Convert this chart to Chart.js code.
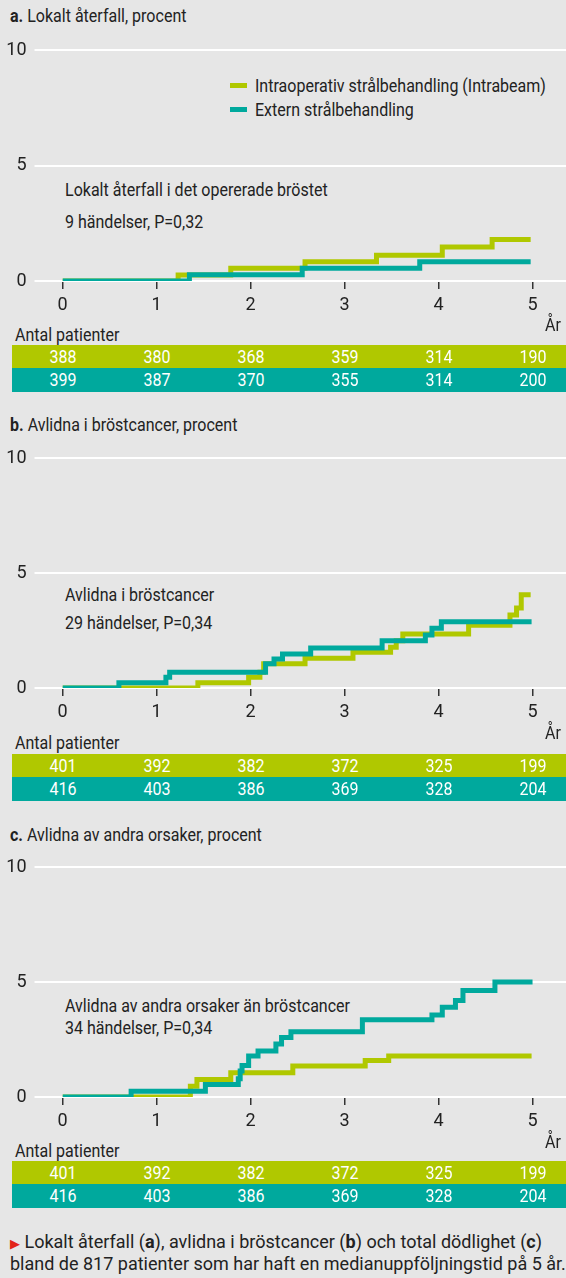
<!DOCTYPE html>
<html lang="sv">
<head>
<meta charset="utf-8">
<title>Intrabeam</title>
<script src="https://cdn.jsdelivr.net/npm/chart.js@4.4.1/dist/chart.umd.min.js"></script>
<style>
    body { margin: 0; background: #e6e6e6; }
    #page {
        position: relative; width: 566px; height: 1278px; overflow: hidden;
        background: #e6e6e6; color: #222;
        font-family: Roboto, "Noto Sans", sans-serif;
    }
    .txt {
        position: absolute; white-space: nowrap; line-height: 1; font-size: 18px;
        transform: translateY(-50%) scaleX(0.89); transform-origin: left center;
    }
    .title { left: 10px; }
    .note { left: 65px; }
    .swatch { position: absolute; left: 230px; width: 17px; height: 5px; }
    .row { position: absolute; left: 12px; width: 554px; }
    .cell {
        position: absolute; top: 50%; color: #fff; font-size: 18px; line-height: 1;
        transform: translate(-50%, -50%) scaleX(0.89); transform-origin: center center;
    }
    canvas { position: absolute; left: 0; }
    .caption { position: absolute; left: 10px; top: 1232px; font-size: 18px; line-height: 20px; white-space: nowrap; }
    .caption .arrow { color: #e2231a; font-size: 13px; }
</style>
</head>
<body>
<div id="page">
    <div class="txt title" style="top:16px"><b>a.</b> Lokalt återfall, procent</div>
    <div class="swatch" style="top:83px;background:#b0c800"></div>
    <div class="txt" style="left:255px;top:86px">Intraoperativ strålbehandling (Intrabeam)</div>
    <div class="swatch" style="top:107px;background:#00a99d"></div>
    <div class="txt" style="left:255px;top:110px">Extern strålbehandling</div>
    <div class="txt note" style="top:190px">Lokalt återfall i det opererade bröstet</div>
    <div class="txt note" style="top:222px">9 händelser, P=0,32</div>
    <canvas id="chartA" width="566" height="295"></canvas>
    <div class="txt" style="left:545px;top:325px">År</div>
    <div class="txt" style="left:15px;top:335px">Antal patienter</div>
    <div class="row" id="tableA1" style="top:345px;height:23px;background:#b0c800"></div>
    <div class="row" id="tableA2" style="top:368px;height:24px;background:#00a99d"></div>

    <div class="txt title" style="top:425px"><b>b.</b> Avlidna i bröstcancer, procent</div>
    <div class="txt note" style="top:595px">Avlidna i bröstcancer</div>
    <div class="txt note" style="top:623px">29 händelser, P=0,34</div>
    <canvas id="chartB" width="566" height="294"></canvas>
    <div class="txt" style="left:545px;top:733px">År</div>
    <div class="txt" style="left:15px;top:743px">Antal patienter</div>
    <div class="row" id="tableB1" style="top:754px;height:23px;background:#b0c800"></div>
    <div class="row" id="tableB2" style="top:777px;height:24px;background:#00a99d"></div>

    <div class="txt title" style="top:835px"><b>c.</b> Avlidna av andra orsaker, procent</div>
    <div class="txt note" style="top:1006px">Avlidna av andra orsaker än bröstcancer</div>
    <div class="txt note" style="top:1028px">34 händelser, P=0,34</div>
    <canvas id="chartC" width="566" height="294"></canvas>
    <div class="txt" style="left:545px;top:1142px">År</div>
    <div class="txt" style="left:15px;top:1151px">Antal patienter</div>
    <div class="row" id="tableC1" style="top:1161px;height:23px;background:#b0c800"></div>
    <div class="row" id="tableC2" style="top:1184px;height:24px;background:#00a99d"></div>

    <div class="caption"><span class="arrow">&#9654;</span> Lokalt återfall (<b>a</b>), avlidna i bröstcancer (<b>b</b>) och total dödlighet (<b>c</b>)<br>bland de 817 patienter som har haft en medianuppföljningstid på 5 år.</div>
</div>

<script>
/* =========================
    Data
========================= */
const yearTicks = [0, 1, 2, 3, 4, 5];
const pctTicks = [0, 5, 10];

// a. Lokalt återfall
const aIntraYears  = [0, 1.23, 1.79, 2.58, 3.34, 4.04, 4.57, 4.98];
const aIntraPct    = [0, 0.26, 0.55, 0.83, 1.12, 1.47, 1.80, 1.80];
const aExternYears = [0, 1.35, 2.55, 3.80, 4.98];
const aExternPct   = [0, 0.27, 0.55, 0.83, 0.83];
const aIntraN  = [388, 380, 368, 359, 314, 190];
const aExternN = [399, 387, 370, 355, 314, 200];

// b. Avlidna i bröstcancer
const bIntraYears  = [0, 1.44, 1.98, 2.10, 2.14, 2.58, 3.09, 3.49, 3.55, 3.62, 4.32, 4.76, 4.83, 4.88, 4.98];
const bIntraPct    = [0, 0.23, 0.47, 0.69, 1.05, 1.29, 1.55, 1.77, 2.05, 2.35, 2.73, 3.17, 3.48, 4.05, 4.05];
const bExternYears = [0, 0.60, 1.10, 1.14, 2.16, 2.25, 2.34, 2.64, 3.40, 3.86, 3.93, 4.03, 4.99];
const bExternPct   = [0, 0.23, 0.47, 0.69, 1.05, 1.26, 1.48, 1.74, 2.05, 2.30, 2.60, 2.88, 2.88];
const bIntraN  = [401, 392, 382, 372, 325, 199];
const bExternN = [416, 403, 386, 369, 328, 204];

// c. Avlidna av andra orsaker
const cIntraYears  = [0, 1.36, 1.43, 1.79, 2.45, 3.22, 3.47, 4.99];
const cIntraPct    = [0, 0.47, 0.76, 1.05, 1.35, 1.59, 1.78, 1.78];
const cExternYears = [0, 0.73, 1.52, 1.87, 1.89, 1.91, 1.98, 2.08, 2.27, 2.33, 2.43, 3.19, 3.93, 4.04, 4.18, 4.26, 4.60, 5.00];
const cExternPct   = [0, 0.25, 0.54, 0.79, 1.13, 1.37, 1.78, 2.00, 2.30, 2.59, 2.84, 3.36, 3.57, 3.90, 4.20, 4.63, 5.00, 5.00];
const cIntraN  = [401, 392, 382, 372, 325, 199];
const cExternN = [416, 403, 386, 369, 328, 204];

const GREEN = '#b0c800';
const TEAL = '#00a99d';
const X_MAX = 5.356;
const tickFont = { family: 'Roboto, "Noto Sans", sans-serif', size: 18 };

/* =========================
    Helpers
========================= */
function toPoints(xs, ys) {
    return xs.map((x, i) => ({ x: x, y: ys[i] }));
}

function stepLine(data, color, order) {
    return {
        data: data,
        borderColor: color,
        borderWidth: 5,
        borderCapStyle: 'butt',
        borderJoinStyle: 'miter',
        stepped: true,
        pointRadius: 0,
        fill: false,
        order: order
    };
}

function fillRow(rowId, chart, counts) {
    const row = document.getElementById(rowId);
    const x = chart.scales.x;
    row.innerHTML = counts.map((n, i) =>
        `<span class="cell" style="left:${x.getPixelForValue(yearTicks[i]) - 12}px">${n}</span>`
    ).join('');
}

/* =========================
    Panel (yTop = 10-linjen, dit flyttas canvasen)
========================= */
function buildPanel(canvasId, yTop, intra, extern, rows) {
    const canvas = document.getElementById(canvasId);
    const chart = new Chart(canvas.getContext('2d'), {
        type: 'line',
        data: {
            datasets: [
                stepLine(toPoints(intra[0], intra[1]), GREEN, 2),
                stepLine(toPoints(extern[0], extern[1]), TEAL, 1)
            ]
        },
        options: {
            responsive: false,
            animation: false,
            devicePixelRatio: 1,
            layout: { padding: { top: 24, left: 0, right: 0, bottom: 0 } },
            plugins: { legend: { display: false }, tooltip: { enabled: false } },
            scales: {
                x: {
                    type: 'linear',
                    min: 0,
                    max: X_MAX,
                    afterBuildTicks: s => { s.ticks = yearTicks.map(v => ({ value: v })); },
                    afterFit: s => { s.height = 40; },
                    border: { display: false },
                    grid: { drawOnChartArea: false, drawTicks: true, tickLength: 8, color: '#333', lineWidth: 1.5 },
                    ticks: { padding: 6, color: '#222', font: tickFont, maxRotation: 0, autoSkip: false }
                },
                y: {
                    min: 0,
                    max: 10,
                    afterBuildTicks: s => { s.ticks = pctTicks.map(v => ({ value: v })); },
                    afterFit: s => { s.width = 62.5; },
                    border: { display: false },
                    grid: { color: '#ffffff', lineWidth: 2, drawTicks: true, tickLength: 28 },
                    ticks: { padding: 8, color: '#222', font: tickFont }
                }
            }
        }
    });
    canvas.style.top = (yTop - chart.chartArea.top) + 'px';
    fillRow(rows[0], chart, rows[1]);
    fillRow(rows[2], chart, rows[3]);
    return chart;
}

buildPanel('chartA', 50, [aIntraYears, aIntraPct], [aExternYears, aExternPct], ['tableA1', aIntraN, 'tableA2', aExternN]);
buildPanel('chartB', 458, [bIntraYears, bIntraPct], [bExternYears, bExternPct], ['tableB1', bIntraN, 'tableB2', bExternN]);
buildPanel('chartC', 867, [cIntraYears, cIntraPct], [cExternYears, cExternPct], ['tableC1', cIntraN, 'tableC2', cExternN]);
</script>
</body>
</html>
